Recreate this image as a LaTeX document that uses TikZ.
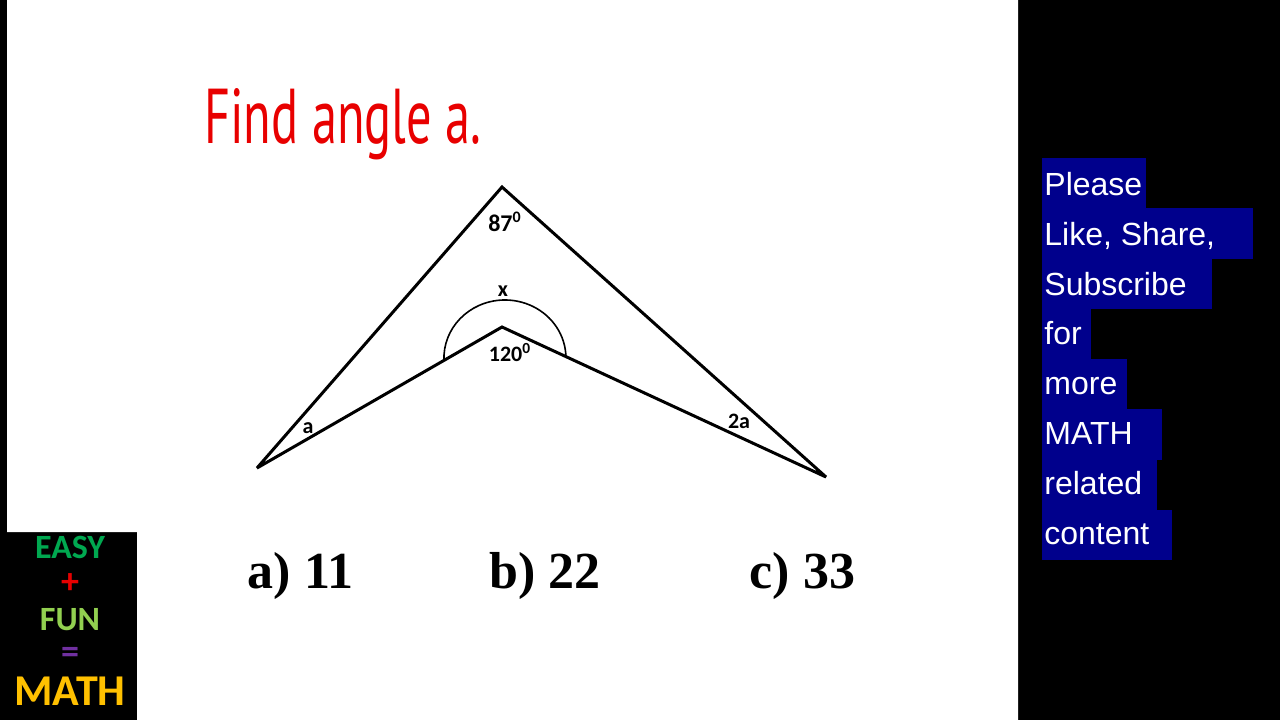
\documentclass[tikz,border=0pt]{standalone}
\usepackage{fontspec}
\setmainfont{Liberation Sans}
\newfontfamily\carlito{Carlito}
\newfontfamily\timesf{Liberation Serif}
\newfontfamily\titlef{PT Sans}
\definecolor{titlered}{RGB}{232,0,0}
\definecolor{navyb}{RGB}{0,0,140}
\definecolor{easygreen}{RGB}{0,168,80}
\definecolor{fungreen}{RGB}{146,208,80}
\definecolor{plusred}{RGB}{230,0,0}
\definecolor{eqpurple}{RGB}{112,48,160}
\definecolor{mathgold}{RGB}{255,192,0}
\tikzset{
  edge/.style={line width=1.5pt, line join=miter, miter limit=5},
  arcline/.style={line width=0.8pt},
  lbl/.style={anchor=base, inner sep=0, font={\carlito\bfseries\fontsize{11}{13}\selectfont}},
  ans/.style={anchor=base, inner sep=0, font={\timesf\bfseries\fontsize{26}{30}\selectfont}},
  hl/.style={fill=navyb, draw=none},
  ht/.style={anchor=base west, inner sep=0, text=white, font={\fontsize{16}{20}\selectfont}},
  logo/.style={anchor=base, inner sep=0, font={\carlito\bfseries\fontsize{17}{19}\selectfont}},
  sym/.style={anchor=center, inner sep=0, font={\carlito\bfseries\fontsize{18}{20}\selectfont}}
}
\begin{document}
\begin{tikzpicture}[x=0.5pt,y=-0.5pt]
\useasboundingbox (0,0) rectangle (1280,720);
\fill[black] (0,0) rectangle (1280,720);
\fill[white] (7,0) -- (1018,0) -- (1018,720) -- (137,720) -- (137,532) -- (7,532) -- cycle;

% title
\node[anchor=base west, inner sep=0, text=titlered] (title) at (204,143)
  {\resizebox{138.5pt}{27.5pt}{\titlef Find angle a.}};

% figure
\coordinate (A) at (502,187);
\coordinate (B) at (257,468);
\coordinate (C) at (826,477);
\coordinate (D) at (502,327);
\draw[edge] (B) -- (A) -- (C) -- (D) -- cycle;
\coordinate (arcL) at (444,360.4);
\draw[arcline] (arcL) arc[start angle=177.6, end angle=358.6, x radius=61, y radius=58];

\node[lbl, font={\carlito\bfseries\fontsize{12}{14}\selectfont}] (l87) at (505,231) {87\textsuperscript{0}};
\node[lbl] (lx) at (503,296) {x};
\node[lbl] (l120) at (510,361) {120\textsuperscript{0}};
\node[lbl] (la) at (308,433) {a};
\node[lbl] (l2a) at (739,428) {2a};

% answers
\node[ans] (ansA) at (300.5,588) {a) 11};
\node[ans] (ansB) at (545,588) {b) 22};
\node[ans] (ansC) at (802.5,588) {c) 33};

% logo
\node[logo, text=easygreen] (easy) at (70,558) {EASY};
\node[sym, text=plusred] (plus) at (70,584) {+};
\node[logo, text=fungreen] (fun) at (70,630) {FUN};
\node[sym, text=eqpurple] (eq) at (70,655) {=};
\node[logo, text=mathgold, font={\carlito\bfseries\fontsize{22}{24}\selectfont}] (math) at (70,705) {MATH};

% right column
\fill[hl] (1042,158) rectangle (1146,208.5);
\fill[hl] (1042,208) rectangle (1253,258.75);
\fill[hl] (1042,258.5) rectangle (1212,309);
\fill[hl] (1042,308.75) rectangle (1091,359.25);
\fill[hl] (1042,359) rectangle (1127,409.5);
\fill[hl] (1042,409.25) rectangle (1162,459.75);
\fill[hl] (1042,459.5) rectangle (1157,510);
\fill[hl] (1042,509.75) rectangle (1172,560);
\node[ht] (r1) at (1044,195) {Please};
\node[ht] (r2) at (1044,245) {Like, Share,};
\node[ht] (r3) at (1044,295) {Subscribe};
\node[ht] (r4) at (1044,344) {for};
\node[ht] (r5) at (1044,394) {more};
\node[ht] (r6) at (1044,444) {MATH};
\node[ht] (r7) at (1044,494) {related};
\node[ht] (r8) at (1044,544) {content};
\end{tikzpicture}
\end{document}
